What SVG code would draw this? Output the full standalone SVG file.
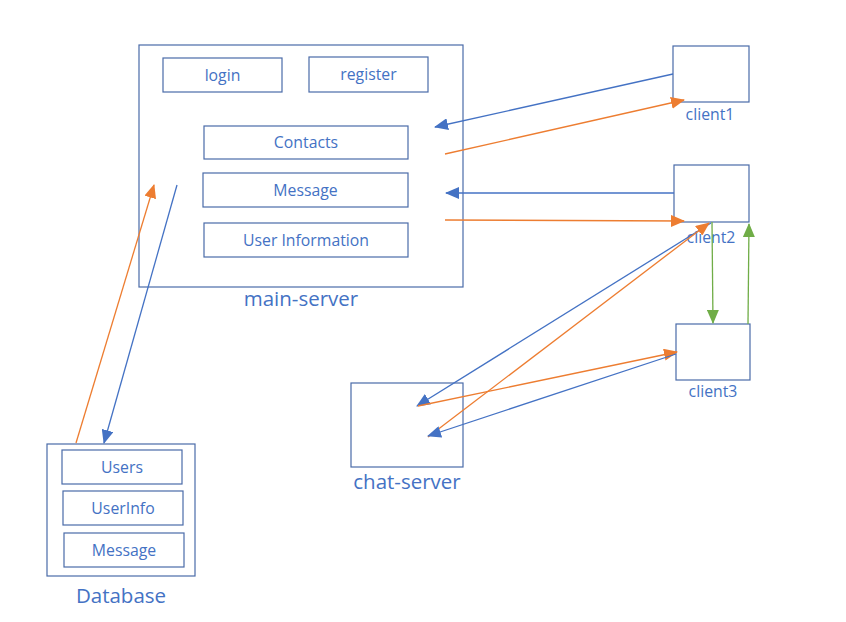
<svg xmlns="http://www.w3.org/2000/svg" width="846" height="622" viewBox="0 0 846 622">
<defs>
<style>
.box{fill:none;stroke:#4A6BA8;stroke-width:1.2}
.t{font-family:"Open Sans","Liberation Sans",sans-serif;fill:#4472C4;text-anchor:middle;dominant-baseline:central}
.s{font-size:15.8px}
.b{font-size:20.5px}
.cb{stroke:#4472C4;stroke-width:1.3;fill:none}
.co{stroke:#ED7D31;stroke-width:1.3;fill:none}
.cg{stroke:#70AD47;stroke-width:1.3;fill:none}
</style>
<marker id="ab" markerUnits="userSpaceOnUse" markerWidth="14" markerHeight="12" viewBox="0 0 14 12" refX="13" refY="6" orient="auto"><path d="M0,0 L14,6 L0,12 z" fill="#4472C4"/></marker>
<marker id="ao" markerUnits="userSpaceOnUse" markerWidth="14" markerHeight="12" viewBox="0 0 14 12" refX="13" refY="6" orient="auto"><path d="M0,0 L14,6 L0,12 z" fill="#ED7D31"/></marker>
<marker id="ag" markerUnits="userSpaceOnUse" markerWidth="14" markerHeight="12" viewBox="0 0 14 12" refX="13" refY="6" orient="auto"><path d="M0,0 L14,6 L0,12 z" fill="#70AD47"/></marker>
</defs>
<rect width="846" height="622" fill="#fff"/>
<g id="main-server">
<rect class="box" x="139" y="45" width="324" height="242"/>
<text class="t b" x="301" y="298">main-server</text>
</g>
<g id="login"><rect class="box" x="163" y="58" width="119" height="34"/><text class="t s" x="222.5" y="75">login</text></g>
<g id="register"><rect class="box" x="309" y="57" width="119" height="35"/><text class="t s" x="368.5" y="74">register</text></g>
<g id="contacts"><rect class="box" x="204" y="126" width="204" height="33"/><text class="t s" x="306" y="142">Contacts</text></g>
<g id="message-main"><rect class="box" x="203" y="173" width="205" height="34"/><text class="t s" x="305.5" y="190">Message</text></g>
<g id="user-information"><rect class="box" x="204" y="223" width="204" height="34"/><text class="t s" x="306" y="240">User Information</text></g>
<g id="client1"><rect class="box" x="673" y="46" width="76" height="56"/><text class="t s" x="710" y="114">client1</text></g>
<g id="client2"><rect class="box" x="674" y="165" width="75" height="57"/><text class="t s" x="711" y="237">client2</text></g>
<g id="client3"><rect class="box" x="676" y="324" width="74" height="56"/><text class="t s" x="713" y="391">client3</text></g>
<g id="chat-server"><rect class="box" x="351" y="383" width="112" height="84"/><text class="t b" x="407" y="481">chat-server</text></g>
<g id="database">
<rect class="box" x="47" y="444" width="148" height="132"/>
<text class="t b" x="121" y="595">Database</text>
</g>
<g id="users"><rect class="box" x="62" y="450" width="120" height="34"/><text class="t s" x="122" y="467">Users</text></g>
<g id="userinfo"><rect class="box" x="63" y="491" width="120" height="34"/><text class="t s" x="123" y="508">UserInfo</text></g>
<g id="message-db"><rect class="box" x="64" y="533" width="120" height="34"/><text class="t s" x="124" y="550">Message</text></g>
<g id="connectors">
<line class="cb" x1="673" y1="74" x2="435" y2="127" marker-end="url(#ab)"/>
<line class="co" x1="445" y1="154" x2="684" y2="100" marker-end="url(#ao)"/>
<line class="cb" x1="674" y1="193" x2="446" y2="193" marker-end="url(#ab)"/>
<line class="co" x1="445" y1="220" x2="684" y2="221" marker-end="url(#ao)"/>
<line class="cb" x1="711" y1="223" x2="417" y2="406" marker-end="url(#ab)"/>
<line class="co" x1="428" y1="437" x2="709" y2="223" marker-end="url(#ao)"/>
<line class="co" x1="418" y1="406" x2="677" y2="352" marker-end="url(#ao)"/>
<line class="cb" x1="676" y1="354" x2="428" y2="436" marker-end="url(#ab)"/>
<line class="cg" x1="712" y1="222" x2="713" y2="323" marker-end="url(#ag)"/>
<line class="cg" x1="748" y1="324" x2="749" y2="224" marker-end="url(#ag)"/>
<line class="co" x1="76" y1="443" x2="154" y2="185" marker-end="url(#ao)"/>
<line class="cb" x1="177" y1="185" x2="104" y2="443" marker-end="url(#ab)"/>
</g>
</svg>
